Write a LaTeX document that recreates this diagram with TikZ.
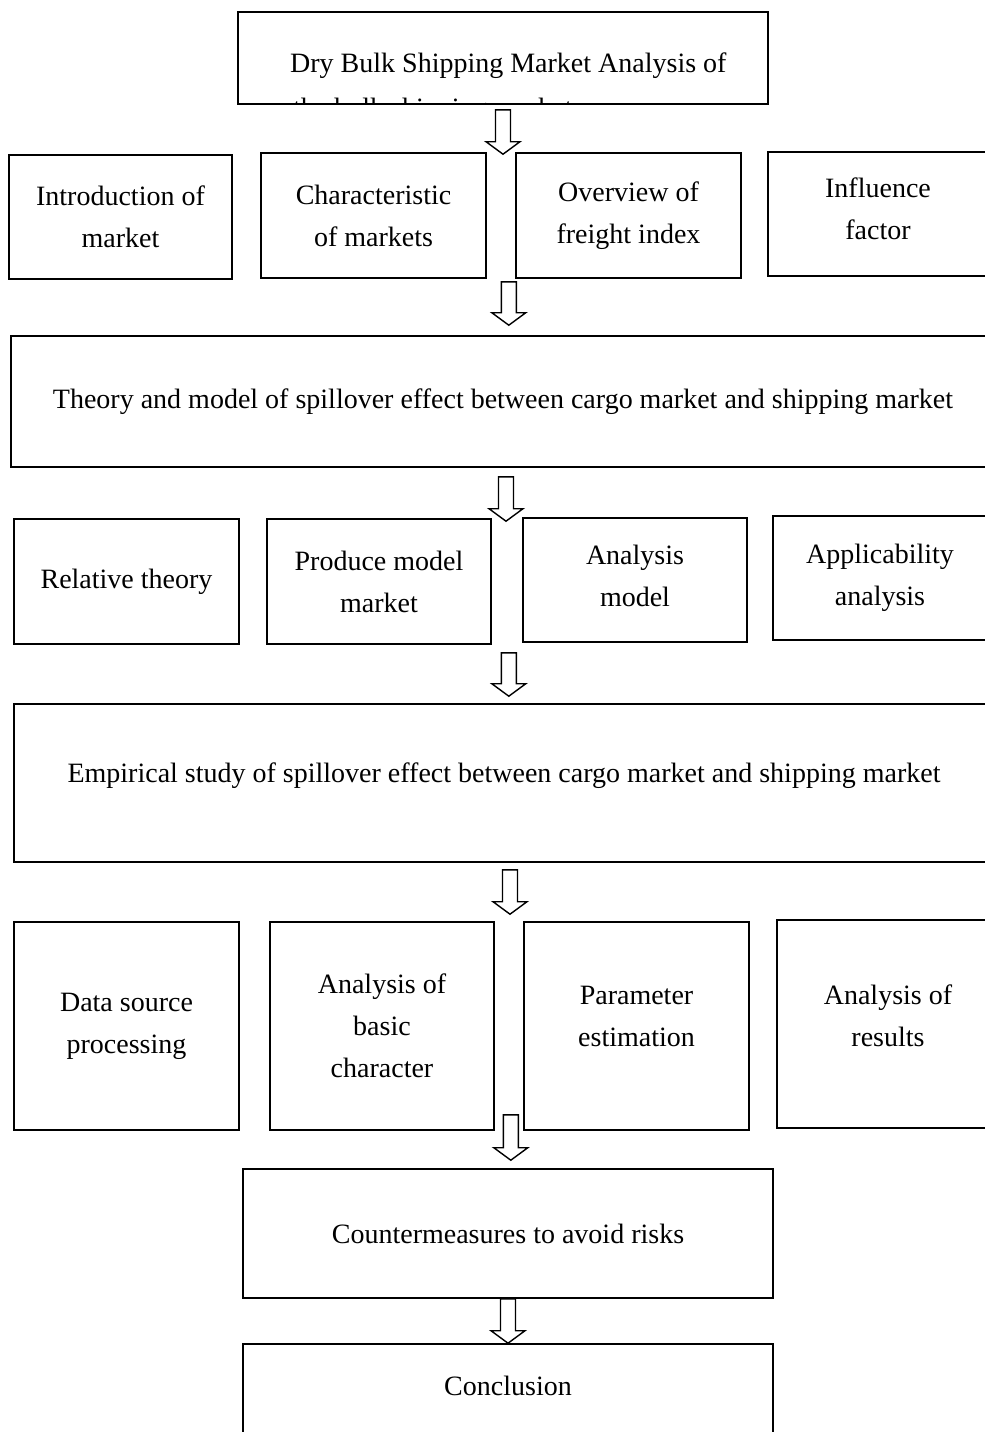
\documentclass[tikz,border=0pt]{standalone}
\usepackage{fontspec}
\setmainfont{Liberation Serif}
\usetikzlibrary{calc}
\tikzset{
  box/.style={draw=black, line width=1.6pt, align=center, inner sep=0pt,
    font=\fontsize{28}{42}\selectfont},
  blockarr/.style={draw=black, line width=1.4pt, fill=white, line join=miter},
  ttext/.style={inner sep=0pt, font=\fontsize{28}{42}\selectfont}
}
\newcommand{\blockarrow}[2]{%
  \draw[blockarr] let \p1=#1, \p2=#2 in
    (\x1-7.5pt,\y1) -- (\x1-7.5pt,\y2+12.5pt) -- (\x1-17pt,\y2+12.5pt) --
    (\x1,\y2) -- (\x1+17pt,\y2+12.5pt) -- (\x1+7.5pt,\y2+12.5pt) --
    (\x1+7.5pt,\y1) -- cycle;}
\begin{document}
\begin{tikzpicture}[x=1pt,y=-1pt]
\useasboundingbox (0,0) rectangle (985,1432);
\clip (0,0) rectangle (985,1432);
\fill[white] (0,0) rectangle (985,1432);

% title box with clipped second line
\node[box, minimum width=530, minimum height=92] (title) at (503,58) {};
\begin{scope}
  \clip ($(title.south west)+(1,-1)$) rectangle ($(title.north east)+(-1,1)$);
  \node[ttext, anchor=base west] (titleA) at (290,72) {Dry Bulk Shipping Market Analysis of};
  \node[ttext, anchor=base west] (titleB) at (293,117) {the bulk shipping market};
\end{scope}

% row 1
\node[box, minimum width=223, minimum height=124] (r1a) at (120.5,217) {Introduction of\\market};
\node[box, minimum width=225, minimum height=125] (r1b) at (373.5,215.5) {Characteristic\\of markets};
\node[box, minimum width=225, minimum height=125] (r1c) at (628.5,215.5) {Overview of\\freight index};
\node[box, minimum width=220, minimum height=124, text depth=10pt] (r1d) at (878,214) {Influence\\factor};

% theory
\node[box, minimum width=984, minimum height=131] (theory) at (503,401.5)
  {Theory and model of spillover effect between cargo market and shipping market};

% row 2
\node[box, minimum width=225, minimum height=125] (r2a) at (126.5,581.5) {Relative theory};
\node[box, minimum width=224, minimum height=125] (r2b) at (379,581.5) {Produce model\\market};
\node[box, minimum width=224, minimum height=124, text depth=8pt] (r2c) at (635,580) {Analysis\\model};
\node[box, minimum width=214, minimum height=124] (r2d) at (880,578) {Applicability\\analysis};

% empirical
\node[box, minimum width=980, minimum height=158, text depth=20pt] (empirical) at (504,783)
  {Empirical study of spillover effect between cargo market and shipping market};

% row 3
\node[box, minimum width=225, minimum height=208] (r3a) at (126.5,1026) {Data source\\processing};
\node[box, minimum width=224, minimum height=208] (r3b) at (382,1026) {Analysis of\\basic\\character};
\node[box, minimum width=225, minimum height=208, text depth=20pt] (r3c) at (636.5,1026) {Parameter\\estimation};
\node[box, minimum width=222, minimum height=208, text depth=16pt] (r3d) at (888,1024) {Analysis of\\results};

% final boxes
\node[box, minimum width=530, minimum height=129] (counter) at (508,1233.5) {Countermeasures to avoid risks};
\node[box, minimum width=530, minimum height=96, text depth=12pt] (concl) at (508,1392) {Conclusion};

% block arrows
\blockarrow{($(title.south)+(0,5)$)}{($(r1b.north)+(0,2)$)}
\blockarrow{($(r1b.south east)+(22,3)$)}{($(theory.north)+(0,-10)$)}
\blockarrow{($(theory.south)+(3,9)$)}{($(r2c.north)+(0,4)$)}
\blockarrow{($(r2b.south east)+(17,8)$)}{($(empirical.north)+(0,-7)$)}
\blockarrow{($(empirical.south)+(6,7)$)}{($(r3b.north)+(0,-7)$)}
\blockarrow{($(r3b.south east)+(16,-16)$)}{($(counter.north)+(0,-8)$)}
\blockarrow{(counter.south)}{(concl.north)}
\end{tikzpicture}
\end{document}
